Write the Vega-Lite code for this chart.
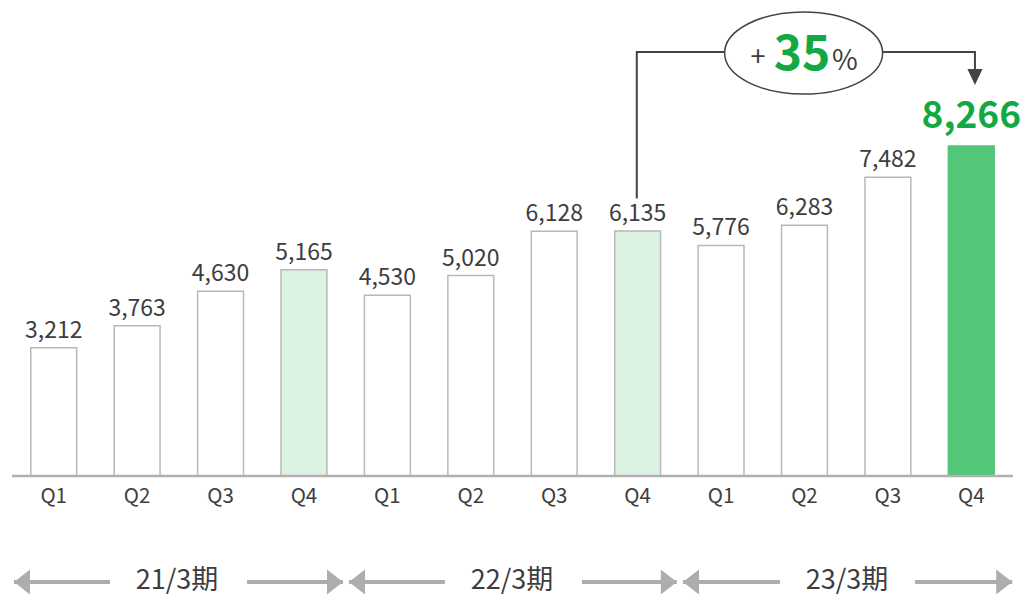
{
  "$schema": "https://vega.github.io/schema/vega-lite/v6.json",
  "width": 1001,
  "height": 596,
  "autosize": "none",
  "padding": {"left": 12, "top": 0, "right": 11, "bottom": 0},
  "background": "white",
  "config": {"view": {"stroke": null}, "font": "Noto Sans CJK JP", "text": {"font": "Noto Sans CJK JP"}},
  "datasets": {
    "bars": [
      {"id": "21/3 Q1", "fy": "21/3", "q": "Q1", "v": 3212, "kind": "normal"},
      {"id": "21/3 Q2", "fy": "21/3", "q": "Q2", "v": 3763, "kind": "normal"},
      {"id": "21/3 Q3", "fy": "21/3", "q": "Q3", "v": 4630, "kind": "normal"},
      {"id": "21/3 Q4", "fy": "21/3", "q": "Q4", "v": 5165, "kind": "prev"},
      {"id": "22/3 Q1", "fy": "22/3", "q": "Q1", "v": 4530, "kind": "normal"},
      {"id": "22/3 Q2", "fy": "22/3", "q": "Q2", "v": 5020, "kind": "normal"},
      {"id": "22/3 Q3", "fy": "22/3", "q": "Q3", "v": 6128, "kind": "normal"},
      {"id": "22/3 Q4", "fy": "22/3", "q": "Q4", "v": 6135, "kind": "prev"},
      {"id": "23/3 Q1", "fy": "23/3", "q": "Q1", "v": 5776, "kind": "normal"},
      {"id": "23/3 Q2", "fy": "23/3", "q": "Q2", "v": 6283, "kind": "normal"},
      {"id": "23/3 Q3", "fy": "23/3", "q": "Q3", "v": 7482, "kind": "normal"},
      {"id": "23/3 Q4", "fy": "23/3", "q": "Q4", "v": 8266, "kind": "current"}
    ],
    "years": [
      {"label": "21/3期", "c": 1.978, "l0": 0.024, "l1": 1.175, "r0": 2.817, "r1": 3.968, "y": -2655, "ty": -2620},
      {"label": "22/3期", "c": 5.994, "l0": 4.04, "l1": 5.19, "r0": 6.833, "r1": 7.97, "y": -2655, "ty": -2620},
      {"label": "23/3期", "c": 10.01, "l0": 8.044, "l1": 9.206, "r0": 10.825, "r1": 11.99, "y": -2655, "ty": -2620}
    ],
    "base": [{"a": 0, "b": 12, "y": 0}],
    "bracket": [
      {"u": 7.49, "y": 6950, "o": 1},
      {"u": 7.49, "y": 10621, "o": 2},
      {"u": 11.544, "y": 10621, "o": 3},
      {"u": 11.544, "y": 10150, "o": 4}
    ],
    "tip": [{"u": 11.544, "y": 9795}],
    "ellipse": [{"u": 9.49, "y": 10596}],
    "plus": [{"t": "+", "u": 8.943, "y": 10471}],
    "pct35": [{"t": "35", "u": 9.47, "y": 10170}],
    "pctsign": [{"t": "%", "u": 9.986, "y": 10170}]
  },
  "layer": [
    {
      "data": {"name": "bars"},
      "encoding": {
        "x": {"field": "id", "type": "nominal", "sort": null, "axis": null,
              "scale": {"type": "band", "paddingInner": 0.45, "paddingOuter": 0.225}}
      },
      "layer": [
        {
          "mark": {"type": "bar", "strokeWidth": 1.5},
          "encoding": {
            "y": {"field": "v", "type": "quantitative", "axis": null,
                  "scale": {"domain": [-3006, 11924], "nice": false, "zero": false}},
            "y2": {"datum": 0},
            "fill": {"field": "kind", "type": "nominal", "legend": null,
                     "scale": {"domain": ["normal", "prev", "current"], "range": ["#ffffff", "#dcf2e3", "#52c778"]}},
            "stroke": {"field": "kind", "type": "nominal", "legend": null,
                       "scale": {"domain": ["normal", "prev", "current"], "range": ["#b8b8b8", "#b8b8b8", "#52c778"]}}
          }
        },
        {
          "transform": [{"filter": "datum.kind != 'current'"}],
          "mark": {"type": "text", "baseline": "alphabetic", "dy": -10, "fontSize": 23, "color": "#3d3d3d"},
          "encoding": {
            "y": {"field": "v", "type": "quantitative"},
            "text": {"field": "v", "type": "quantitative", "format": ","}
          }
        },
        {
          "transform": [{"filter": "datum.kind == 'current'"}],
          "mark": {"type": "text", "baseline": "alphabetic", "dy": -18, "fontSize": 37, "fontWeight": "bold", "color": "#14a843"},
          "encoding": {
            "y": {"field": "v", "type": "quantitative"},
            "text": {"field": "v", "type": "quantitative", "format": ","}
          }
        },
        {
          "mark": {"type": "text", "baseline": "middle", "fontSize": 20.5, "color": "#3d3d3d"},
          "encoding": {
            "y": {"datum": -526},
            "text": {"field": "q", "type": "nominal"}
          }
        }
      ]
    },
    {
      "layer": [
        {
          "data": {"name": "base"},
          "mark": {"type": "rule", "color": "#b0b0b0", "strokeWidth": 2.5},
          "encoding": {
            "x": {"field": "a", "type": "quantitative", "axis": null, "scale": {"domain": [0, 12], "nice": false, "zero": false}},
            "x2": {"field": "b"},
            "y": {"field": "y", "type": "quantitative"}
          }
        },
        {
          "data": {"name": "years"},
          "mark": {"type": "rule", "color": "#adadad", "strokeWidth": 4},
          "encoding": {
            "x": {"field": "l0", "type": "quantitative"},
            "x2": {"field": "l1"},
            "y": {"field": "y", "type": "quantitative"}
          }
        },
        {
          "data": {"name": "years"},
          "mark": {"type": "rule", "color": "#adadad", "strokeWidth": 4},
          "encoding": {
            "x": {"field": "r0", "type": "quantitative"},
            "x2": {"field": "r1"},
            "y": {"field": "y", "type": "quantitative"}
          }
        },
        {
          "data": {"name": "years"},
          "mark": {"type": "point", "filled": true, "color": "#adadad", "opacity": 1, "size": 625,
                   "shape": "M 0 0 L 1.28 -1 L 1.28 1 Z"},
          "encoding": {
            "x": {"field": "l0", "type": "quantitative"},
            "y": {"field": "y", "type": "quantitative"}
          }
        },
        {
          "data": {"name": "years"},
          "mark": {"type": "point", "filled": true, "color": "#adadad", "opacity": 1, "size": 625,
                   "shape": "M 0 0 L -1.28 -1 L -1.28 1 Z"},
          "encoding": {
            "x": {"field": "r1", "type": "quantitative"},
            "y": {"field": "y", "type": "quantitative"}
          }
        },
        {
          "data": {"name": "years"},
          "mark": {"type": "text", "baseline": "middle", "fontSize": 27, "color": "#3d3d3d"},
          "encoding": {
            "x": {"field": "c", "type": "quantitative"},
            "y": {"field": "ty", "type": "quantitative"},
            "text": {"field": "label", "type": "nominal"}
          }
        },
        {
          "data": {"name": "bracket"},
          "mark": {"type": "line", "color": "#444444", "strokeWidth": 2},
          "encoding": {
            "x": {"field": "u", "type": "quantitative"},
            "y": {"field": "y", "type": "quantitative"},
            "order": {"field": "o", "type": "quantitative"}
          }
        },
        {
          "data": {"name": "tip"},
          "mark": {"type": "point", "filled": true, "color": "#444444", "opacity": 1, "size": 256,
                   "shape": "M 0 0 L -0.94 -2 L 0.94 -2 Z"},
          "encoding": {
            "x": {"field": "u", "type": "quantitative"},
            "y": {"field": "y", "type": "quantitative"}
          }
        },
        {
          "data": {"name": "ellipse"},
          "mark": {"type": "point", "filled": false, "fill": "#ffffff", "fillOpacity": 1, "stroke": "#444444", "strokeWidth": 1.5, "opacity": 1, "size": 24964,
                   "shape": "M -1 0 C -1 -0.2872 -0.5523 -0.52 0 -0.52 C 0.5523 -0.52 1 -0.2872 1 0 C 1 0.2872 0.5523 0.52 0 0.52 C -0.5523 0.52 -1 0.2872 -1 0 Z"},
          "encoding": {
            "x": {"field": "u", "type": "quantitative"},
            "y": {"field": "y", "type": "quantitative"}
          }
        },
        {
          "data": {"name": "plus"},
          "mark": {"type": "text", "baseline": "middle", "fontSize": 27, "color": "#3d3d3d"},
          "encoding": {
            "x": {"field": "u", "type": "quantitative"},
            "y": {"field": "y", "type": "quantitative"},
            "text": {"field": "t", "type": "nominal"}
          }
        },
        {
          "data": {"name": "pct35"},
          "mark": {"type": "text", "baseline": "alphabetic", "fontSize": 48, "fontWeight": "bold", "color": "#14a843"},
          "encoding": {
            "x": {"field": "u", "type": "quantitative"},
            "y": {"field": "y", "type": "quantitative"},
            "text": {"field": "t", "type": "nominal"}
          }
        },
        {
          "data": {"name": "pctsign"},
          "mark": {"type": "text", "baseline": "alphabetic", "fontSize": 28, "color": "#3d3d3d"},
          "encoding": {
            "x": {"field": "u", "type": "quantitative"},
            "y": {"field": "y", "type": "quantitative"},
            "text": {"field": "t", "type": "nominal"}
          }
        }
      ]
    }
  ],
  "resolve": {"scale": {"x": "independent"}}
}
